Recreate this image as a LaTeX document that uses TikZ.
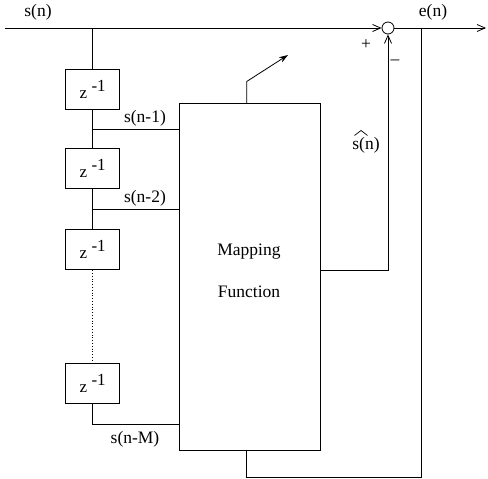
\documentclass[tikz,border=0pt]{standalone}
\usepackage{fontspec}
\setmainfont{Liberation Serif}
\usetikzlibrary{arrows.meta}
\begin{document}
\begin{tikzpicture}[x=1pt,y=-1pt, line width=0.8pt,
 delay/.style={draw, minimum width=54pt, minimum height=40pt, inner sep=0pt, font=\fontsize{17}{20}\selectfont},
 lbl/.style={font=\fontsize{17.5}{20}\selectfont, inner sep=0pt},
 arr/.style={-{Straight Barb[length=8pt,width=7pt]}}]
\useasboundingbox (0,0) rectangle (488,479);
% nodes
\node[draw,circle,minimum size=12pt,inner sep=0pt] (sum) at (388,28) {};
\coordinate (in) at (5,28);
\coordinate (out) at (486,28);
\coordinate (tap) at (92.7,28);
\coordinate (etap) at (421.7,28);
\node[delay] (d1) at (92.7,89) {z~\raisebox{7pt}{-1}};
\node[delay] (d2) at (92.7,168.5) {z~\raisebox{7pt}{-1}};
\node[delay] (d3) at (92.7,249.7) {z~\raisebox{7pt}{-1}};
\node[delay] (d4) at (92.7,383.7) {z~\raisebox{7pt}{-1}};
\node[draw, minimum width=141pt, minimum height=347pt, inner sep=0pt] (map) at (250.3,276.5) {};
\node[lbl] (m1) at (249,252) {Mapping};
\node[lbl] (m2) at (249,292) {Function};
\coordinate (t1) at (92.7,129);
\coordinate (t2) at (92.7,209.5);
\coordinate (tM) at (92.7,424);
\coordinate (fb) at (246.7,450);
\coordinate (fbb) at (246.7,477.5);
\coordinate (eb) at (421.7,477.5);
\coordinate (mo) at (321,270);
\coordinate (ad0) at (246.7,103);
\coordinate (ad1) at (246.7,81.5);
\coordinate (ad2) at (288,55);
% labels
\node[lbl] (ls) at (38,12) {s(n)};
\node[lbl] (le) at (433,12) {e(n)};
\node[lbl] (lp) at (366,45) {+};
\node[lbl] (lm) at (395,62) {–};
\node[lbl] (lh) at (366,145) {s(n)};
\draw[line width=0.7pt] (354.5,135.5) -- (361,130.5) -- (367.5,135.5);
\node[lbl] (l1) at (145,118) {s(n-1)};
\node[lbl] (l2) at (145,198) {s(n-2)};
\node[lbl] (lM) at (135,439) {s(n-M)};
% connectors
\draw[arr] (in) -- (sum.west);
\draw[arr] (sum.east) -- (out);
\draw (tap) -- (d1.north);
\draw (d1.south) -- (d2.north);
\draw (d2.south) -- (d3.north);
\draw[dotted] (d3.south) -- (d4.north);
\draw (t1) -- (t1 -| map.west);
\draw (t2) -- (t2 -| map.west);
\draw (d4.south) |- (tM -| map.west);
\draw[arr] (mo) -| (sum.south);
\draw (fb) -- (fbb) -- (eb) -- (etap);
\draw[-{Stealth[length=9pt,width=6pt]}] (ad0) -- (ad1) -- (ad2);
\end{tikzpicture}
\end{document}
